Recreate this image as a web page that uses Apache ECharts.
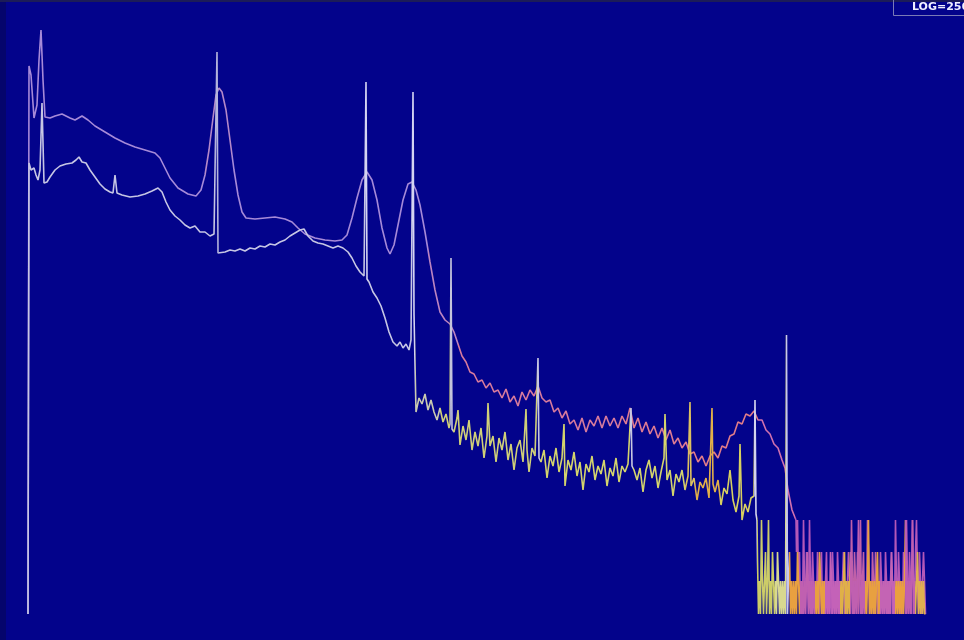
<!DOCTYPE html>
<html>
<head>
<meta charset="utf-8">
<title>Spectrum</title>
<script src="https://cdn.jsdelivr.net/npm/echarts/dist/echarts.min.js"></script>
<style>
  html, body { margin: 0; padding: 0; background: #03038b; }
  #chart { width: 964px; height: 640px; }
</style>
</head>
<body>
<div id="chart"></div>
<script>
// Display scale label
const scaleLabel = 'LOG=256';

// Upper trace, continuum part: [channel, display counts]
const upperTrace = [
  [28,0],[29,548],[31,539],[34,496],[37,509],[39,554],[41,584],[43,534],[45,497],[50,496],[55,498],[62,500],
  [70,496],[75,494],[82,498],[88,494],[95,488],[105,482],[115,476],[125,471],[135,467],[145,464],[155,461],
  [160,456],[165,446],[170,436],[178,426],[188,420],[196,418],[201,424],[205,439],[209,464],[213,496],[216,519],
  [219,526],[222,522],[226,504],[230,474],[234,444],[238,419],[242,402],[246,396],[255,395],[265,396],[275,397],
  [285,395],[292,392],[298,386],[305,380],[315,376],[325,374],[335,373],[342,374],[347,379],[352,396],[357,416],
  [362,434],[367,442],[372,434],[377,414],[382,386],[387,366],[390,360],[394,369],[398,389],[403,414],[408,430],
  [412,432],[416,424],[420,409],[425,382],[430,352],[435,324],[440,302],[445,294],[450,290],[454,282],[458,270],
  [462,258],[466,252],[470,242],[474,240],[478,232],[482,234],[486,226],[490,231],[494,222],[498,224],[502,216],
  [506,225],[510,212],[514,218],[518,208],[522,222],[526,214],[530,224],[534,218],[538,228],[542,216],[546,212],
  [550,214],[554,202],[558,206],[562,196],[566,203],[570,190],[574,194],[578,184],[582,196],[586,182],[590,194],
  [594,188],[598,198],[602,186],[606,198],[610,188],[614,196],[618,186],[622,198],[626,190],[630,206],[634,186],
  [638,196],[642,182],[646,192],[650,180],[654,188],[658,176],[662,186],[666,174],[670,184],[674,170],[678,176],
  [682,166],[686,172],[690,160],[694,162],[698,152],[702,158],[706,148],[710,158],[714,162],[718,156],[722,168],
  [726,166],[730,178],[734,180],[738,192],[742,190],[746,200],[750,198],[754,203],[758,194],[762,194],[766,184],
  [770,180],[774,170],[778,166],[782,154],[785,146],[788,124],[792,104],[796,94]
];

// Upper trace, low-count tail: one count per channel from upperTailStart
const upperTailStart = 796;
const upperTailCounts = [
  94,62,94,33,62,0,33,0,94,33,
  0,62,33,0,94,33,0,62,33,0,
  33,0,62,33,0,33,62,0,33,0,
  33,62,0,33,0,33,0,62,33,0,
  33,0,62,33,0,33,0,33,62,0,
  33,0,33,62,33,0,94,33,0,62,
  33,0,62,0,33,94,0,33,62,0,
  33,0,94,62,0,33,0,62,33,0,
  62,33,0,33,0,62,33,0,33,0,
  62,33,0,33,0,33,62,0,33,0,
  94,33,0,62,33,0,33,0,62,33,
  0,94,33,0,62,33,0,94,33,0,
  62,94,33,0,62,33,0,33,62,33,
  0
];

// Lower trace, continuum part: [channel, display counts]
const lowerTrace = [
  [28,0],[29,451],[31,444],[34,446],[36,439],[38,434],[40,444],[42,511],[44,431],[47,432],[50,437],[55,444],
  [60,448],[66,450],[72,451],[76,454],[79,457],[82,452],[86,451],[90,444],[95,437],[100,430],[105,425],[110,422],
  [113,421],[115,439],[117,421],[122,419],[130,417],[138,418],[145,420],[152,423],[158,426],[162,422],[166,412],
  [170,404],[175,398],[180,394],[185,389],[190,386],[195,388],[200,382],[205,382],[210,378],[214,380],[216,381],
  [217,562],[218,361],[220,361],[225,362],[230,364],[235,363],[240,365],[245,363],[250,366],[255,365],[260,368],
  [265,367],[270,370],[275,369],[280,372],[285,374],[290,378],[295,381],[300,384],[304,385],[308,378],[313,373],
  [318,371],[323,370],[328,368],[333,366],[338,368],[343,366],[348,362],[352,356],[356,348],[360,342],[364,338],
  [365,340],[366,532],[367,335],[369,332],[373,322],[377,316],[381,308],[385,296],[389,282],[393,272],[397,268],
  [400,272],[403,266],[406,270],[409,264],[411,274],[412,276],[413,522],[414,300],[416,202],[419,216],[422,210],
  [425,220],[428,204],[431,214],[434,202],[437,194],[440,206],[443,192],[446,200],[449,186],[450,190],[451,356],
  [452,185],[454,182],[457,196],[458,204],[460,169],[463,188],[466,174],[469,194],[472,164],[475,182],[478,168],
  [481,186],[484,156],[487,178],[488,211],[490,168],[493,178],[496,152],[499,176],[502,164],[505,182],[508,154],
  [511,170],[514,144],[517,166],[520,174],[523,152],[526,205],[527,164],[529,142],[532,166],[535,158],[537,160],
  [538,256],[539,156],[541,152],[544,164],[547,136],[550,158],[553,148],[556,166],[559,142],[562,156],[564,190],
  [565,128],[568,154],[571,144],[574,162],[577,138],[580,152],[583,124],[586,150],[589,142],[592,158],[595,134],
  [598,148],[601,140],[604,154],[607,128],[610,146],[613,138],[616,156],[619,132],[622,148],[625,142],[628,150],
  [630,152],[631,206],[632,148],[634,144],[637,134],[640,146],[643,122],[646,144],[649,154],[652,136],[655,148],
  [658,126],[661,142],[664,156],[665,200],[667,134],[670,144],[673,118],[676,140],[679,132],[682,144],[685,124],
  [688,138],[690,212],[691,128],[694,136],[697,114],[700,132],[703,126],[706,136],[709,116],[712,206],[713,130],
  [715,122],[718,134],[721,109],[724,126],[727,120],[730,144],[733,114],[736,102],[739,118],[740,170],[742,94],
  [745,110],[748,102],[751,116],[753,116],[754,118],[755,214],[756,100],[757,94]
];

// Lower trace, low-count tail: one count per channel from lowerTailStart
const lowerTailStart = 757;
const lowerTailCounts = [
  94,54,0,33,0,94,33,0,33,62,
  0,33,94,0,33,0,62,33,0,33,
  0,62,33,0,33,0,33,0,33,0,
  279,0,33,62,0,33,0,33,0,33,
  0,62,33,0,33,0,33,0,33,0,
  33,62,0,33,0,33,0,33,0,33,
  0,33,0,62,33,0,33,0,33,0,
  33,0,33,0,62,33,0,33,0,33,
  0,33,0,33,0,33,0,33,62,0,
  33,0,33,0,62,33,0,33,0,33,
  0,33,94,33,0,33,0,33,0,33,
  0,33,94,0,33,0,33,0,33,0,
  33,62,0,33,0,33,0,33,0,33,
  0,33,0,33,0,62,33,0,33,0,
  33,0,33,0,33,0,33,0,33,94,
  0,33,0,33,0,33,94,0,33,0,
  33,62,0,33,0,33,0,33,0,0
];

// Colour bands along the channel axis: [start channel, colour]
const upperBands = [
  [-100,'#a68ad8'],[205,'#b488c8'],[232,'#a68ad8'],[428,'#bc84c0'],[458,'#d67a9c'],
  [620,'#dc7a92'],[690,'#e07c88'],[758,'#d070ae'],[795,'#b458b8'],[850,'#c060a8'],[880,'#b458b8']
];
const lowerBands = [
  [-100,'#c6c6e4'],[215,'#b4b4dc'],[219,'#c6c6e4'],[364.5,'#d4d4f2'],[367.5,'#c6c6e4'],
  [411.5,'#d4d4f2'],[414.5,'#cacab0'],[440,'#d0d078'],[449.5,'#c4c4dc'],[452.5,'#d0d078'],
  [536.5,'#c8c8e2'],[539.5,'#d4d46c'],[629.5,'#c8c8e2'],[632.5,'#d4d46c'],[685,'#dcc060'],
  [695,'#e2b048'],[720,'#d8d060'],[753.5,'#d4d4ee'],[756.5,'#cccc68'],[775,'#d8d890'],
  [785.5,'#c8c8ec'],[788.5,'#e8a040'],[800,'#c060b0'],[815,'#e8a040'],[825,'#c462b8'],
  [840,'#e0b048'],[850,'#c060b0'],[865,'#e8a040'],[880,'#c464b4'],[895,'#eaa040'],
  [905,'#c060b0'],[915,'#e0b050']
];

function toPieces(bands) {
  return bands.map((b, i) => ({
    gte: b[0],
    lt: i < bands.length - 1 ? bands[i + 1][0] : 5000,
    color: b[1]
  }));
}

function fromCounts(start, counts) {
  return counts.map((c, i) => [start + i, c]);
}

function traceSeries(name, data, z, step) {
  return {
    name: name,
    type: 'line',
    data: data,
    step: step,
    showSymbol: false,
    lineStyle: { width: 1.6 },
    z: z
  };
}

const chart = echarts.init(document.getElementById('chart'), null, { renderer: 'canvas' });

chart.setOption({
  animation: false,
  backgroundColor: '#03038b',
  grid: { left: 0, right: 0, top: 0, bottom: 26 },
  xAxis: { type: 'value', min: 0, max: 964, show: false },
  yAxis: { type: 'value', min: 0, max: 614, show: false },
  visualMap: [
    { type: 'piecewise', show: false, dimension: 0, seriesIndex: [0, 1], pieces: toPieces(upperBands) },
    { type: 'piecewise', show: false, dimension: 0, seriesIndex: [2, 3], pieces: toPieces(lowerBands) }
  ],
  series: [
    traceSeries('upper', upperTrace, 2, false),
    traceSeries('upper tail', fromCounts(upperTailStart, upperTailCounts), 2, 'middle'),
    traceSeries('lower', lowerTrace, 3, false),
    traceSeries('lower tail', fromCounts(lowerTailStart, lowerTailCounts), 3, 'middle')
  ],
  graphic: [
    { type: 'rect', shape: { x: 0, y: 0, width: 6, height: 640 }, style: { fill: '#05056c' }, z: 10 },
    { type: 'rect', shape: { x: 0, y: 0, width: 964, height: 2 }, style: { fill: '#1c1c58' }, z: 10 },
    { type: 'rect', shape: { x: 893.5, y: -2, width: 80, height: 17.5 }, style: { fill: 'transparent', stroke: '#7a7ab6', lineWidth: 1 }, z: 10 },
    { type: 'text', x: 912, y: 2, style: { text: scaleLabel, fill: '#f0f0ff', font: 'bold 11px "DejaVu Sans"' }, z: 11 }
  ]
});
</script>
</body>
</html>
